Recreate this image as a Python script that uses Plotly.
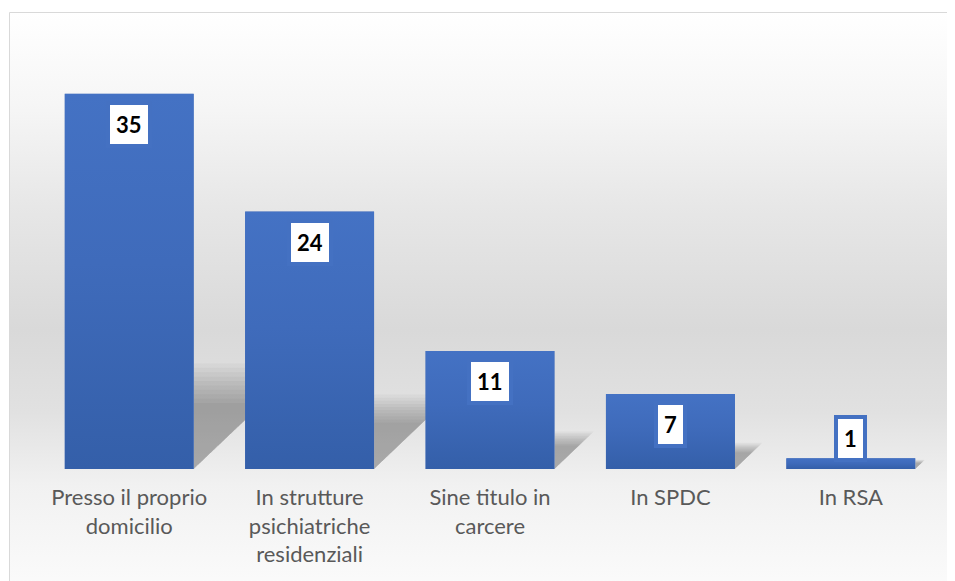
import base64
import plotly.graph_objects as go

# ---- data ----
categories = [
    "Presso il proprio<br>domicilio",
    "In strutture<br>psichiatriche<br>residenziali",
    "Sine titulo in<br>carcere",
    "In SPDC",
    "In RSA",
]
values = [35, 24, 11, 7, 1]

# ---- layout constants (figure sits at an 8px page offset) ----
OFF = 8
W, H = 955 - OFF, 581 - OFF
ML, MR, MT, MB = 31, 14, 32, 112
PW, PH = W - ML - MR, H - MT - MB
BARGAP = 0.285
YMAX = 40
BAR_COLOR = "#3D69B8"


def px_x(px):  # page px -> paper
    return (px - OFF - ML) / PW


def px_y(py):
    return (H - MB - (py - OFF)) / PH


def svg_uri(stops, w=100, h=500):
    stop_str = "".join(f'<stop offset="{o}" stop-color="{c}"/>' for o, c in stops)
    svg = (f'<svg xmlns="http://www.w3.org/2000/svg" width="{w}" height="{h}" viewBox="0 0 {w} {h}" '
           'preserveAspectRatio="none"><defs><linearGradient id="g" x1="0" y1="0" x2="0" y2="1">'
           f'{stop_str}</linearGradient></defs><rect width="{w}" height="{h}" fill="url(#g)"/></svg>')
    return "data:image/svg+xml;base64," + base64.b64encode(svg.encode()).decode()


xs = list(range(len(categories)))

bg_uri = svg_uri([(0.0, "#FFFFFF"), (0.155, "#F6F6F6"), (0.33, "#E7E7E7"), (0.54, "#D9D9D9"),
                  (0.68, "#E1E1E1"), (0.805, "#F1F1F1"), (1.0, "#FCFCFC")])
bar_uri = svg_uri([(0.0, "#4472C4"), (0.45, "#3F6BBB"), (1.0, "#345FA9")])

fig = go.Figure()
fig.add_trace(go.Bar(
    x=xs, y=values, marker=dict(color=BAR_COLOR, line=dict(width=0)),
    hoverinfo="skip", showlegend=False,
))

half = (1 - BARGAP) / 2
unit_px_x = PW / len(categories)
unit_px_y = PH / YMAX

# soft perspective shadows behind bars (computed from values)
shapes = []
for x, v in zip(xs, values):
    hs = 0.22 * v + 0.5
    n = 10
    for k in range(n):
        s = 0.75 + 0.05 * k
        h = hs * s
        w = h * unit_px_y / unit_px_x
        xr = x + half
        path = f"M{xr},0 L{xr},{h} L{xr + w * 1.05},{h} Z"
        shapes.append(dict(type="path", path=path, xref="x", yref="y", layer="below",
                           fillcolor="rgba(0,0,0,0.03)", line=dict(width=0)))

# chart border
shapes.append(dict(type="rect", xref="paper", yref="paper",
                   x0=px_x(9.5), x1=px_x(975), y0=px_y(600), y1=px_y(12.5),
                   line=dict(color="#D9D9D9", width=1), fillcolor="rgba(0,0,0,0)", layer="below"))

images = [dict(source=bg_uri, xref="paper", yref="paper", x=px_x(9.5), y=px_y(12.5),
               sizex=px_x(975) - px_x(9.5), sizey=px_y(12.5) - px_y(600),
               xanchor="left", yanchor="top", sizing="stretch", layer="below")]
# vertical gradient fill for each bar, sized by its value
for x, v in zip(xs, values):
    images.append(dict(source=bar_uri, xref="x", yref="y", x=x - half, y=v,
                       sizex=2 * half, sizey=v, xanchor="left", yanchor="top",
                       sizing="stretch", layer="above"))

annotations = []
for x, v in zip(xs, values):
    inside = v >= 5
    annotations.append(dict(
        x=x, y=v, xref="x", yref="y", text=f"<b>{v}</b>", showarrow=False,
        yanchor="top" if inside else "bottom",
        yshift=-7 if inside else -4,
        font=dict(family="Lato", size=22, color="#000000"),
        bgcolor="#FFFFFF", bordercolor="#4471C2", borderwidth=4, borderpad=6,
    ))

fig.update_layout(
    width=W, height=H,
    margin=dict(l=ML, r=MR, t=MT, b=MB),
    paper_bgcolor="#FFFFFF", plot_bgcolor="rgba(0,0,0,0)",
    bargap=BARGAP,
    images=images,
    shapes=shapes,
    annotations=annotations,
    xaxis=dict(tickvals=xs, ticktext=categories, range=[-0.5, len(xs) - 0.5],
               showgrid=False, zeroline=False, showline=False, ticks="",
               tickfont=dict(family="Lato", size=22, color="#595959"),
               ticklabelstandoff=13),
    yaxis=dict(range=[0, YMAX], visible=False, showgrid=False, zeroline=False),
    font=dict(family="Lato"),
)

fig.write_html("out.html")
